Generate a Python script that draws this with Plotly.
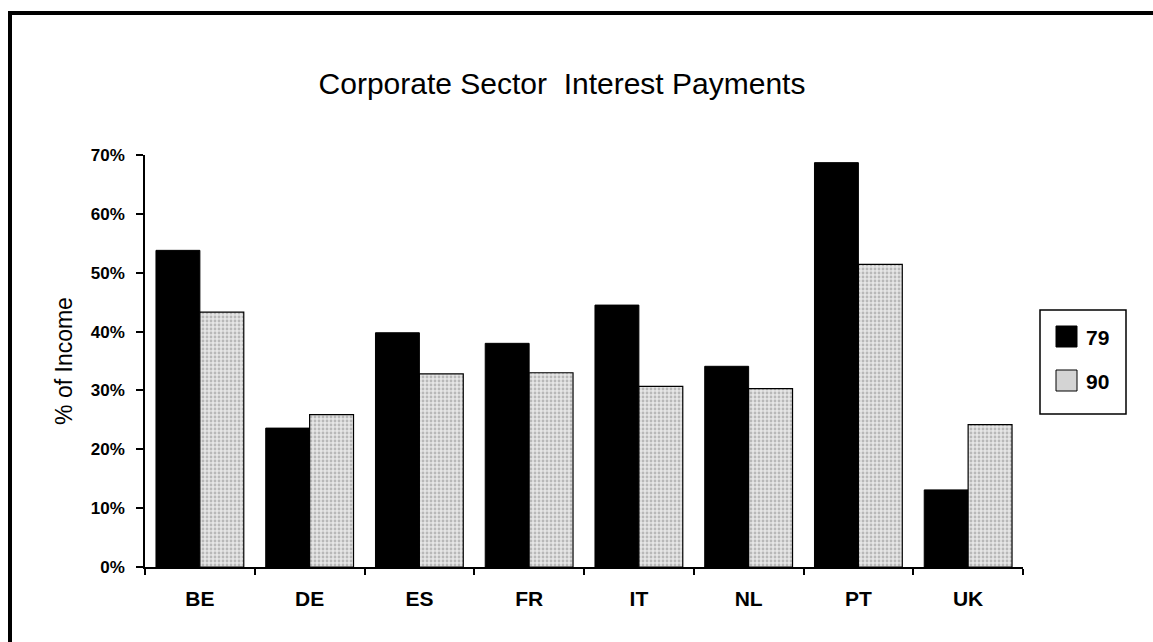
import plotly.graph_objects as go

categories = ["BE", "DE", "ES", "FR", "IT", "NL", "PT", "UK"]
series_names = ["79", "90"]
values_79 = [0.538, 0.236, 0.398, 0.380, 0.445, 0.341, 0.687, 0.131]
values_90 = [0.433, 0.259, 0.328, 0.330, 0.307, 0.303, 0.514, 0.242]
y_ticks = [0.0, 0.1, 0.2, 0.3, 0.4, 0.5, 0.6, 0.7]

W, H = 1153, 642
L, R, T, B = 145, 130, 155, 75
pw, ph = W - L - R, H - T - B

FONT = "Liberation Sans, Arial, Helvetica, sans-serif"

def px_x(px):
    return (px - L) / pw

def px_y(py):
    return (H - B - py) / ph

fig = go.Figure()
fig.add_trace(go.Bar(
    x=categories, y=values_79, name=series_names[0],
    marker=dict(color="black", line=dict(color="black", width=1)),
    showlegend=False,
))
fig.add_trace(go.Bar(
    x=categories, y=values_90, name=series_names[1],
    marker=dict(
        color="#dcdcdc",
        line=dict(color="black", width=1.2),
        pattern=dict(shape=".", fgcolor="#8a8a8a", bgcolor="#e6e6e6", size=4, solidity=0.4),
    ),
    showlegend=False,
))

shapes = [
    # outer frame (left and top edges)
    dict(type="line", xref="paper", yref="paper", x0=px_x(10), x1=px_x(10), y0=px_y(13), y1=px_y(H + 5),
         line=dict(color="black", width=4)),
    dict(type="line", xref="paper", yref="paper", x0=px_x(8), x1=px_x(W + 5), y0=px_y(13), y1=px_y(13),
         line=dict(color="black", width=4)),
    # legend box
    dict(type="rect", xref="paper", yref="paper", x0=px_x(1040), x1=px_x(1126), y0=px_y(310), y1=px_y(414),
         line=dict(color="black", width=1.5), fillcolor="white"),
    dict(type="rect", xref="paper", yref="paper", x0=px_x(1056), x1=px_x(1077), y0=px_y(326), y1=px_y(347),
         line=dict(color="black", width=1), fillcolor="black"),
    dict(type="rect", xref="paper", yref="paper", x0=px_x(1056), x1=px_x(1077), y0=px_y(370), y1=px_y(391),
         line=dict(color="black", width=1), fillcolor="#d4d4d4"),
]
annotations = [
    dict(text=series_names[0], xref="paper", yref="paper", x=px_x(1084), y=px_y(337),
         xanchor="left", yanchor="middle", showarrow=False,
         font=dict(family=FONT, size=21, color="black", weight="bold")),
    dict(text=series_names[1], xref="paper", yref="paper", x=px_x(1084), y=px_y(381),
         xanchor="left", yanchor="middle", showarrow=False,
         font=dict(family=FONT, size=21, color="black", weight="bold")),
]

fig.update_layout(
    width=W, height=H,
    margin=dict(l=L, r=R, t=T, b=B, autoexpand=False),
    paper_bgcolor="white", plot_bgcolor="white",
    font=dict(family=FONT, color="black"),
    title=dict(text="Corporate Sector \u00a0Interest Payments", xref="container", yref="container",
               x=562 / W, y=1 - 83 / H, xanchor="center", yanchor="middle",
               font=dict(family=FONT, size=30, color="black")),
    barmode="group", bargap=0.2, bargroupgap=0.0,
    showlegend=False,
    shapes=shapes, annotations=annotations,
    xaxis=dict(
        type="category", showgrid=False, showline=True, linecolor="black", linewidth=1.5,
        ticks="outside", tickson="boundaries", ticklen=6, tickcolor="black", tickwidth=1.5,
        tickfont=dict(family=FONT, size=21, color="black", weight="bold"),
        ticklabelstandoff=12, zeroline=False,
    ),
    yaxis=dict(
        range=[0, 0.7], tickvals=y_ticks, tickformat=".0%", showgrid=False,
        showline=True, linecolor="black", linewidth=1.5,
        ticks="outside", ticklen=7, tickcolor="black", tickwidth=1.5,
        tickfont=dict(family=FONT, size=17, color="black", weight="bold"),
        ticklabelstandoff=8, zeroline=False,
        title=dict(text="% of Income", standoff=12, font=dict(family=FONT, size=23, color="black")),
    ),
)

fig.write_html(
    "out.html",
    config={"displayModeBar": False},
    post_script="document.body.style.margin='0';document.body.style.overflow='hidden';",
)
